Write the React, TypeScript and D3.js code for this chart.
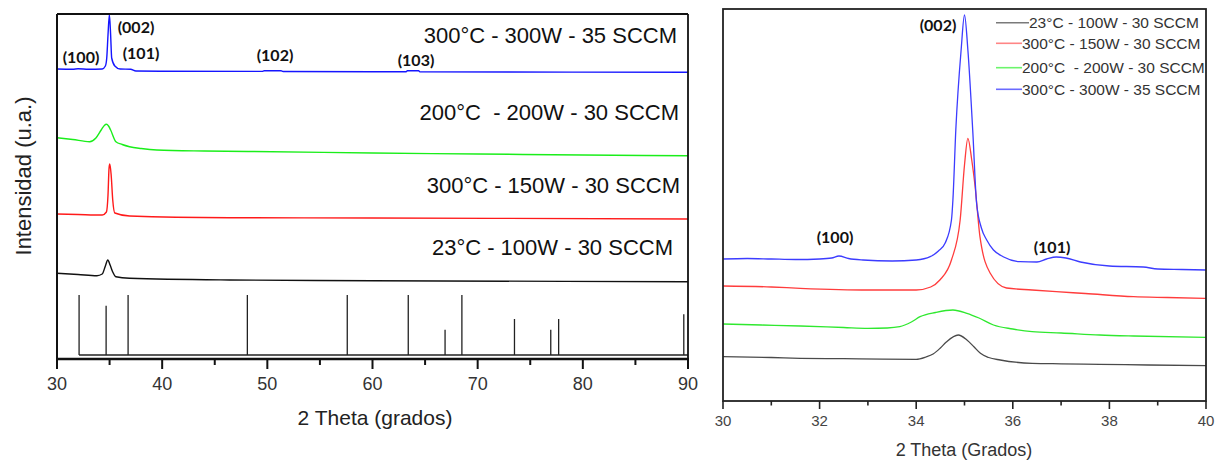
import React from "react";
import * as d3 from "d3";

// ---------- LEFT PANEL DATA (2θ in degrees, intensity in arbitrary units) ----------
const leftXTicks = [30, 40, 50, 60, 70, 80, 90];
const leftXMinor = [35, 45, 55, 65, 75, 85];

const leftBlue: [number, number][] = [
  [30, 290], [31.5, 289.8], [32.0, 290.2], [33, 289.7], [34.3, 290], [34.6, 293], [34.73, 301],
  [34.85, 324], [34.98, 344.3], [35.1, 324], [35.2, 301], [35.5, 293], [36.0, 290], [37.0, 289.8],
  [37.5, 288], [40, 287.8], [49.5, 287.6], [49.7, 288.2], [51.3, 288.2], [51.5, 287.5], [60, 287.2],
  [63.2, 287.2], [63.3, 288.2], [64.4, 288.2], [64.5, 287.2], [90, 286.7],
];
const leftGreen: [number, number][] = [
  [30, 221.3], [31.5, 219.5], [33.1, 217.3], [33.7, 221], [34.2, 229], [34.5, 233.5], [34.7, 234.7],
  [34.9, 233], [35.1, 229], [35.6, 217.3], [36.2, 214.5], [36.9, 212.3], [38, 210.5], [39.5, 209],
  [44, 208], [48.7, 207.5], [60, 206], [70, 205], [80, 204], [90, 203.3],
];
const leftRed: [number, number][] = [
  [30, 145], [32, 144.5], [34.3, 144], [34.7, 147], [34.85, 164], [34.95, 191], [35.02, 195],
  [35.15, 184], [35.3, 159], [35.5, 146], [36.9, 143], [46.4, 141.3], [60, 141], [90, 140],
];
const leftBlack: [number, number][] = [
  [30, 85.7], [32, 84.5], [33.8, 83.3], [34.3, 85], [34.6, 93], [34.83, 99], [35.05, 94],
  [35.3, 87], [35.6, 82.3], [36.9, 80.7], [46.4, 79], [60, 78.3], [90, 77.3],
];

// reference pattern (stick positions and relative intensities, %)
const stickPos = [32.1, 34.67, 36.76, 48.1, 57.6, 63.4, 66.9, 68.5, 73.5, 76.95, 77.7, 89.6];
const stickInt = [100, 82, 100, 100, 100, 100, 42, 100, 60, 42, 60, 68];

const leftLabels = [
  "300°C - 300W - 35 SCCM",
  "200°C  - 200W - 30 SCCM",
  "300°C - 150W - 30 SCCM",
  "23°C - 100W - 30 SCCM",
];
const leftPeakNames = ["(100)", "(002)", "(101)", "(102)", "(103)"];

// ---------- RIGHT PANEL DATA ----------
const rightXTicks = [30, 32, 34, 36, 38, 40];
const rightXMinor = [31, 33, 35, 37, 39];

const rightBlack: [number, number][] = [
  [30, 44.3], [31, 43.5], [31.6, 42.7], [32.5, 42.3], [33.3, 41.8], [34.0, 41.7], [34.2, 44],
  [34.35, 47], [34.5, 53], [34.63, 59.3], [34.87, 66], [35.05, 61], [35.2, 54], [35.33, 47.7],
  [35.5, 43.5], [35.74, 41], [36.4, 37.7], [37.0, 37.2], [37.8, 36.7], [38.8, 36], [40, 35.3],
];
const rightRed: [number, number][] = [
  [30, 115], [31, 114], [31.6, 112.7], [33, 111], [34, 111], [34.3, 114], [34.49, 121],
  [34.73, 141], [34.91, 181], [35.0, 236], [35.07, 262.7], [35.15, 241], [35.22, 214.3],
  [35.32, 164.3], [35.53, 128], [35.87, 113], [36.4, 111], [36.9, 109.3], [37.5, 107.5],
  [38.5, 104.3], [39.2, 103.5], [40, 102.7],
];
const rightGreen: [number, number][] = [
  [30, 77], [30.8, 76], [31.6, 75], [32.5, 73.5], [33, 72.7], [33.4, 73], [33.66, 74.3],
  [33.9, 79], [34.08, 84.3], [34.4, 88.5], [34.76, 91], [35.05, 87.7], [35.3, 83], [35.6, 76],
  [36.0, 72], [36.4, 69.3], [37.0, 68], [37.8, 66], [38.5, 65], [40, 63.7],
];
const rightBlue: [number, number][] = [
  [30, 142], [30.5, 142.5], [31, 142], [31.5, 141.5], [32, 142], [32.25, 143], [32.4, 145],
  [32.6, 142.5], [32.9, 141], [33.5, 140], [34.0, 141], [34.29, 144.3], [34.46, 150], [34.6, 158],
  [34.73, 181], [34.76, 201], [34.82, 271], [34.93, 351], [35.0, 386], [35.07, 351], [35.17, 271],
  [35.25, 198], [35.35, 173], [35.46, 161], [35.6, 151], [35.8, 144.3], [36.15, 139.3], [36.5, 139],
  [36.7, 142], [36.9, 144], [37.1, 143], [37.4, 139], [38.0, 135], [38.7, 134], [39.0, 132],
  [39.5, 131.5], [40, 131],
];
const rightLegend = [
  "23°C - 100W - 30 SCCM",
  "300°C - 150W - 30 SCCM",
  "200°C  - 200W - 30 SCCM",
  "300°C - 300W - 35 SCCM",
];
const rightPeakNames = ["(002)", "(100)", "(101)"];

// ---------- LAYOUT ----------
const W = 1216;
const H = 460;
const L = { x0: 57, x1: 688, y0: 14, y1: 359 };
const R = { x0: 723, x1: 1206, y0: 9, y1: 401 };
const SANS = "'Liberation Sans', Arial, sans-serif";
const BOLD = "Lato, 'Open Sans', sans-serif";

export default function App() {
  // left scales
  const lx = d3.scaleLinear().domain([30, 90]).range([L.x0, L.x1]);
  const ly = d3.scaleLinear().domain([0, 345]).range([L.y1, L.y0]);
  const ls = d3.scaleLinear().domain([0, 100]).range([355, 295]);
  const lline = d3
    .line<[number, number]>()
    .x((d) => lx(d[0]))
    .y((d) => ly(d[1]))
    .curve(d3.curveMonotoneX);

  // right scales
  const rx = d3.scaleLinear().domain([30, 40]).range([R.x0, R.x1]);
  const ry = d3.scaleLinear().domain([0, 392]).range([R.y1, R.y0]);
  const rline = d3
    .line<[number, number]>()
    .x((d) => rx(d[0]))
    .y((d) => ry(d[1]))
    .curve(d3.curveMonotoneX);

  const leftSeries = [
    { d: leftBlue, c: "#1515ff" },
    { d: leftGreen, c: "#1aee1a" },
    { d: leftRed, c: "#ff1a1a" },
    { d: leftBlack, c: "#111" },
  ];
  const leftLabelPos = [
    { x: 677, y: 43 },
    { x: 679, y: 120 },
    { x: 680, y: 193 },
    { x: 673, y: 255 },
  ];
  const leftPeakPos = [
    { x: 81, y: 56 },
    { x: 136, y: 26 },
    { x: 141, y: 52.5 },
    { x: 275, y: 54 },
    { x: 416, y: 59 },
  ];

  const rightSeries = [
    { d: rightBlack, c: "#4a4a4a", lc: "#7a7a7a" },
    { d: rightRed, c: "#ff3c3c", lc: "#ff8585" },
    { d: rightGreen, c: "#2fe82f", lc: "#6cf56c" },
    { d: rightBlue, c: "#3c3cff", lc: "#6a6aff" },
  ];
  const rightPeakPos = [
    { x: 938, y: 24.5 },
    { x: 835, y: 236 },
    { x: 1052, y: 246.5 },
  ];
  const legendY = [22.7, 43.3, 67.7, 89.3];

  return (
    <svg
      width={W}
      height={H}
      viewBox={`0 0 ${W} ${H}`}
      style={{ position: "absolute", left: 0, top: 0, background: "#fff" }}
    >
      <rect x={0} y={0} width={W} height={H} fill="#fff" />

      {/* ================= LEFT PANEL ================= */}
      <g>
        {leftSeries.map((s, i) => (
          <path key={i} d={lline(s.d) || ""} fill="none" stroke={s.c} strokeWidth={1.4} />
        ))}
        <line x1={lx(stickPos[0])} x2={L.x1} y1={ls(0)} y2={ls(0)} stroke="#222" strokeWidth={1.3} />
        {stickPos.map((p, i) => (
          <line key={i} x1={lx(p)} x2={lx(p)} y1={ls(0)} y2={ls(stickInt[i])} stroke="#222" strokeWidth={1.3} />
        ))}
        <line x1={L.x0} x2={L.x1} y1={L.y0} y2={L.y0} stroke="#111" strokeWidth={1.8} />
        <line x1={L.x1} x2={L.x1} y1={L.y0} y2={L.y1} stroke="#111" strokeWidth={1.8} />
        <line x1={L.x0} x2={L.x0} y1={L.y0} y2={L.y1 + 10} stroke="#111" strokeWidth={2} />
        <line x1={L.x0} x2={L.x1 + 1} y1={L.y1} y2={L.y1} stroke="#111" strokeWidth={2.4} />
        {leftXTicks.map((t) => (
          <g key={t}>
            <line x1={lx(t)} x2={lx(t)} y1={L.y1} y2={L.y1 + 10} stroke="#111" strokeWidth={2} />
            <text x={lx(t)} y={390} textAnchor="middle" fontFamily={SANS} fontSize={18} fill="#333">
              {t}
            </text>
          </g>
        ))}
        {leftXMinor.map((t) => (
          <line key={t} x1={lx(t)} x2={lx(t)} y1={L.y1} y2={L.y1 + 6} stroke="#111" strokeWidth={2} />
        ))}
        <text x={375} y={425} textAnchor="middle" fontFamily={SANS} fontSize={21} fill="#222">
          2 Theta (grados)
        </text>
        <text
          transform="translate(31,176) rotate(-90)"
          textAnchor="middle"
          fontFamily={SANS}
          fontSize={22}
          fill="#222"
        >
          Intensidad (u.a.)
        </text>
        {leftLabels.map((t, i) => (
          <text
            key={t}
            x={leftLabelPos[i].x}
            y={leftLabelPos[i].y}
            textAnchor="end"
            fontFamily={SANS}
            fontSize={22}
            fill="#111"
            style={{ whiteSpace: "pre" }}
          >
            {t}
          </text>
        ))}
        {leftPeakNames.map((t, i) => (
          <text
            key={t}
            x={leftPeakPos[i].x}
            y={leftPeakPos[i].y}
            textAnchor="middle"
            dominantBaseline="central"
            fontFamily={BOLD}
            fontWeight={700}
            fontSize={16}
            fill="#111"
          >
            {t}
          </text>
        ))}
      </g>

      {/* ================= RIGHT PANEL ================= */}
      <g>
        {rightSeries.map((s, i) => (
          <path key={i} d={rline(s.d) || ""} fill="none" stroke={s.c} strokeWidth={1.3} />
        ))}
        <rect x={R.x0} y={R.y0} width={R.x1 - R.x0} height={R.y1 - R.y0} fill="none" stroke="#222" strokeWidth={1.8} />
        {rightXTicks.map((t) => (
          <g key={t}>
            <line x1={rx(t)} x2={rx(t)} y1={R.y1} y2={R.y1 + 8} stroke="#222" strokeWidth={1.6} />
            <text x={rx(t)} y={426} textAnchor="middle" fontFamily={SANS} fontSize={15} fill="#444">
              {t}
            </text>
          </g>
        ))}
        {rightXMinor.map((t) => (
          <line key={t} x1={rx(t)} x2={rx(t)} y1={R.y1} y2={R.y1 + 4.5} stroke="#222" strokeWidth={1.6} />
        ))}
        <text x={964} y={456} textAnchor="middle" fontFamily={SANS} fontSize={18} fill="#333">
          2 Theta (Grados)
        </text>
        {rightPeakNames.map((t, i) => (
          <text
            key={t}
            x={rightPeakPos[i].x}
            y={rightPeakPos[i].y}
            textAnchor="middle"
            dominantBaseline="central"
            fontFamily={BOLD}
            fontWeight={700}
            fontSize={16}
            fill="#111"
          >
            {t}
          </text>
        ))}
        {rightLegend.map((t, i) => (
          <g key={t}>
            <line
              x1={996}
              x2={i === 0 ? 1029 : 1022}
              y1={legendY[i]}
              y2={legendY[i]}
              stroke={rightSeries[i].lc}
              strokeWidth={1.6}
            />
            <text
              x={i === 0 ? 1029 : 1022}
              y={legendY[i]}
              dominantBaseline="central"
              fontFamily={SANS}
              fontSize={15.5}
              fill="#333"
              style={{ whiteSpace: "pre" }}
            >
              {t}
            </text>
          </g>
        ))}
      </g>
    </svg>
  );
}
